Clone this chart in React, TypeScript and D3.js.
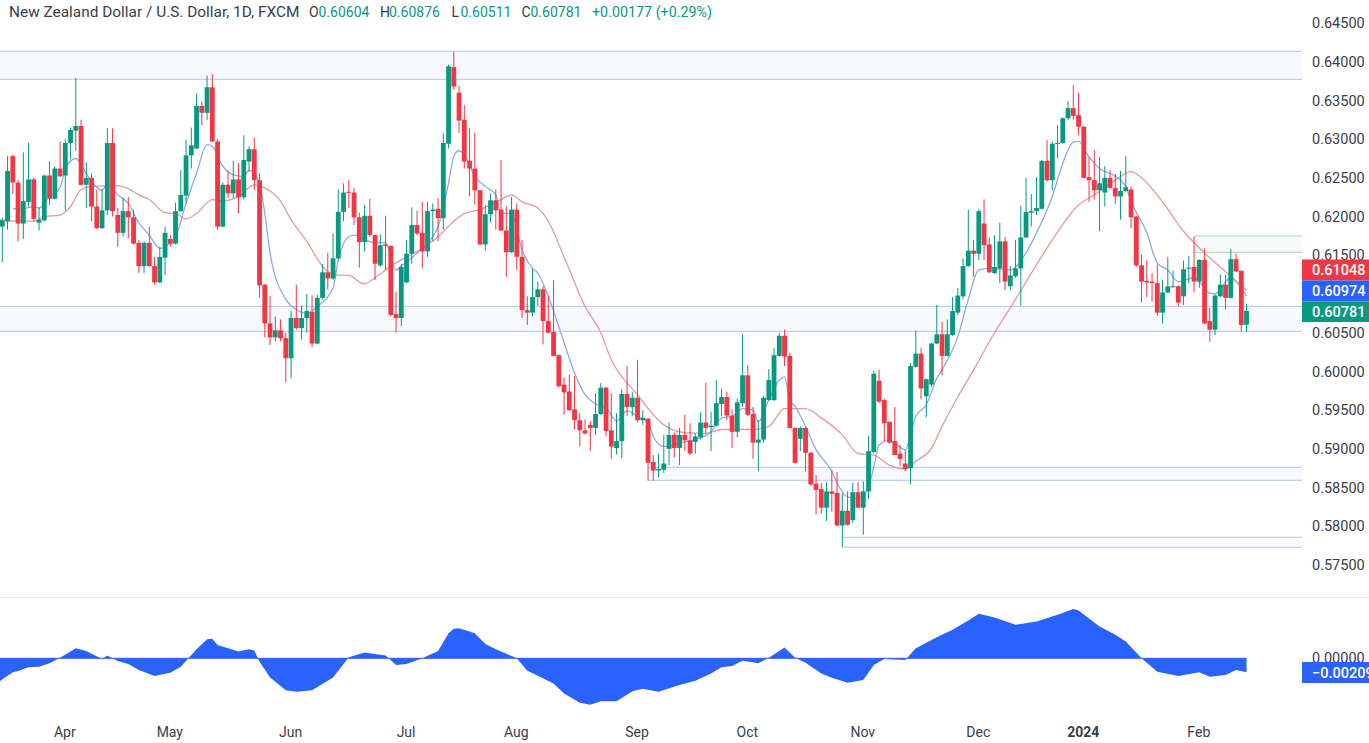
import React, { useRef, useEffect } from 'react';
import * as d3 from 'd3';

const WIDTH = 1369;
const HEIGHT = 743;

// daily candles, in pips (price * 10000)
const openPips = [
  6187,6194,6278,6244,6191,6219,6248,6192,6195,6253,
  6223,6262,6253,6295,6311,6317,6241,6250,6213,6185,
  6208,6295,6202,6179,6207,6199,6166,6136,6166,6136,
  6115,6147,6171,6165,6207,6227,6279,6288,6343,6334,
  6367,6297,6187,6241,6230,6248,6225,6271,6287,6247,
  6112,6062,6044,6053,6043,6017,6069,6056,6069,6077,
  6036,6095,6128,6120,6146,6206,6232,6231,6199,6167,
  6201,6176,6137,6164,6162,6074,6069,6115,6152,6189,
  6179,6155,6207,6210,6198,6294,6393,6360,6325,6272,
  6262,6234,6164,6203,6221,6209,6182,6154,6209,6148,
  6079,6076,6096,6106,6065,6051,6021,5983,5974,5951,
  5937,5924,5931,5927,5945,5979,5924,5901,5910,5971,
  5954,5966,5937,5939,5883,5872,5873,5900,5918,5901,
  5918,5911,5909,5915,5934,5928,5930,5958,5967,5943,
  5922,5959,5995,5945,5908,5912,5963,5963,6020,6046,
  6020,5927,5913,5927,5895,5855,5848,5824,5845,5843,
  5801,5820,5808,5844,5824,5845,5896,5988,5963,5935,
  5910,5894,5881,5875,6006,6023,5968,5983,6036,6048,
  6020,6047,6076,6097,6136,6156,6152,6191,6164,6127,
  6133,6168,6110,6123,6133,6173,6205,6207,6210,6272,
  6247,6294,6295,6327,6340,6331,6316,6251,6247,6234,
  6231,6250,6237,6226,6233,6235,6200,6137,6117,6116,
  6114,6076,6102,6109,6110,6097,6133,6135,6116,6144,
  6065,6054,6097,6112,6095,6145,6130,6060.4,
];
const highPips = [
  6198,6278,6280,6247,6283,6295,6250,6212,6254,6271,
  6265,6297,6300,6315,6379,6325,6270,6256,6235,6235,
  6314,6314,6211,6224,6225,6209,6170,6168,6187,6148,
  6161,6187,6176,6218,6260,6299,6315,6359,6349,6382,
  6384,6300,6244,6259,6272,6269,6305,6291,6302,6256,
  6113,6097,6071,6067,6050,6078,6112,6085,6100,6098,
  6099,6139,6153,6178,6235,6243,6247,6237,6205,6215,
  6223,6177,6177,6201,6163,6103,6139,6170,6212,6208,
  6219,6219,6217,6224,6308,6396,6413,6369,6344,6314,
  6308,6235,6215,6230,6235,6273,6213,6225,6217,6170,
  6097,6133,6116,6110,6097,6118,6022,5992,5996,5994,
  5946,5938,5936,5972,5985,5980,5972,5946,5977,6007,
  5974,6015,5950,5940,5892,5894,5918,5934,5921,5927,
  5944,5933,5920,5947,5985,5948,5989,5978,5974,5951,
  5965,6048,6008,5954,5937,5968,6003,6030,6050,6054,
  6024,5928,5929,5928,5896,5866,5856,5857,5873,5870,
  5843,5845,5856,5857,5858,5917,6001,6002,5965,5935,
  5954,5905,5899,6011,6053,6030,5991,6037,6086,6064,
  6067,6096,6108,6146,6209,6170,6210,6222,6173,6176,
  6192,6174,6136,6170,6214,6250,6229,6251,6273,6299,
  6297,6318,6328,6349,6370,6360,6317,6277,6286,6277,
  6265,6260,6255,6259,6278,6239,6201,6151,6144,6127,
  6138,6118,6148,6130,6111,6143,6149,6174,6145,6159,
  6082,6099,6125,6125,6158,6152,6130,6087.6,
];
const lowPips = [
  6141,6183,6229,6168,6171,6213,6194,6182,6194,6215,
  6222,6251,6208,6274,6285,6240,6211,6194,6184,6184,
  6202,6200,6161,6174,6172,6164,6127,6127,6135,6112,
  6114,6124,6161,6164,6206,6217,6262,6287,6318,6325,
  6296,6183,6186,6224,6224,6204,6222,6258,6234,6095,
  6044,6034,6039,6039,5986,5991,6054,6041,6050,6031,
  6035,6093,6106,6118,6144,6194,6211,6189,6134,6155,
  6174,6118,6135,6131,6071,6050,6059,6114,6139,6176,
  6133,6148,6168,6168,6183,6288,6364,6308,6262,6226,
  6215,6163,6156,6192,6183,6181,6122,6153,6131,6069,
  6060,6071,6085,6035,6049,6019,5979,5944,5949,5925,
  5903,5918,5897,5918,5944,5916,5887,5893,5888,5942,
  5942,5934,5931,5859,5859,5863,5869,5879,5889,5879,
  5897,5892,5894,5912,5920,5897,5929,5942,5937,5901,
  5915,5954,5942,5887,5871,5908,5962,5962,6019,6007,
  5926,5881,5897,5871,5852,5815,5816,5807,5819,5800,
  5773,5801,5804,5823,5789,5835,5894,5959,5909,5907,
  5892,5878,5871,5854,6005,5964,5941,5980,6035,5995,
  6019,6046,6073,6093,6135,6122,6144,6144,6127,6126,
  6114,6105,6105,6121,6085,6172,6187,6202,6209,6245,
  6234,6275,6294,6325,6325,6305,6249,6219,6222,6181,
  6213,6235,6216,6196,6232,6185,6135,6089,6096,6090,
  6072,6062,6101,6108,6084,6086,6114,6102,6108,6061,
  6038,6047,6096,6080,6094,6128,6051,6051.1,
];
const closePips = [
  6195,6259,6244,6191,6220,6248,6197,6196,6253,6223,
  6262,6252,6295,6312,6317,6241,6250,6213,6185,6208,
  6295,6207,6179,6207,6199,6165,6136,6166,6136,6115,
  6148,6179,6165,6207,6228,6279,6292,6343,6334,6367,
  6297,6187,6241,6230,6248,6225,6273,6287,6247,6111,
  6062,6044,6053,6043,6017,6069,6056,6069,6078,6036,
  6095,6128,6120,6146,6206,6231,6231,6199,6167,6201,
  6176,6139,6163,6162,6073,6069,6135,6152,6189,6178,
  6155,6207,6209,6198,6295,6394,6368,6324,6271,6262,
  6234,6164,6203,6221,6208,6182,6154,6209,6148,6079,
  6076,6096,6106,6065,6050,6020,5981,5973,5950,5937,
  5924,5920,5927,5945,5979,5923,5903,5910,5971,5954,
  5966,5937,5940,5882,5872,5874,5881,5918,5901,5918,
  5911,5894,5916,5934,5927,5930,5959,5967,5943,5922,
  5960,5995,5944,5908,5912,5966,5989,6021,6046,6019,
  5927,5882,5927,5895,5854,5847,5824,5845,5842,5801,
  5820,5802,5844,5824,5845,5897,5997,5961,5933,5908,
  5892,5887,5874,6007,6023,5978,5990,6036,6048,6020,
  6048,6078,6098,6136,6156,6152,6207,6163,6128,6135,
  6168,6116,6124,6133,6173,6206,6207,6211,6272,6247,
  6294,6295,6327,6340,6330,6316,6250,6247,6234,6243,
  6250,6237,6226,6233,6238,6199,6137,6116,6115,6114,
  6076,6102,6110,6110,6089,6132,6134,6116,6144,6062,
  6054,6098,6112,6095,6145,6129,6060,6078.1,
];

// moving averages: candle index + value in pips
const fastMaAt = [2,3,6,7,9,11,12,14,15,17,19,20,22,24,26,28,30,32,33,35,37,39,40,42,44,46,47,49,50,51,54,56,58,60,63,64,66,67,71,73,75,76,79,82,83,85,86,87,88,90,92,94,95,97,99,101,102,104,106,109,111,113,115,117,119,121,123,124,126,130,132,135,137,139,141,143,144,146,148,149,150,151,153,155,158,159,161,163,165,166,167,169,172,173,174,176,178,179,182,184,186,188,192,195,197,200,202,204,205,207,209,212,214,215,218,220,222,224,227,230,231,234,235,237];
const fastMa = [6211,6209,6213,6211,6226,6237,6262,6275,6267,6245,6234,6242,6228,6217,6192,6176,6159,6166,6174,6217,6256,6293,6291,6265,6254,6252,6260,6243,6204,6153,6093,6080,6075,6084,6108,6144,6174,6176,6166,6166,6131,6136,6153,6174,6187,6243,6278,6285,6280,6252,6239,6228,6204,6204,6157,6133,6127,6097,6058,5998,5970,5958,5953,5936,5949,5942,5935,5916,5903,5909,5912,5922,5940,5942,5952,5950,5935,5963,5989,5993,5963,5955,5929,5899,5871,5856,5838,5836,5851,5877,5905,5911,5899,5918,5942,5957,5991,6002,6045,6093,6131,6133,6131,6153,6179,6226,6269,6296,6297,6277,6262,6252,6239,6220,6179,6140,6131,6116,6121,6101,6100,6121,6116,6097.4];
const slowMaAt = [-1,3,6,8,11,13,15,17,22,24,26,28,31,33,35,37,40,42,45,48,50,53,55,58,61,63,66,69,71,74,76,80,83,86,88,91,95,97,99,102,104,107,111,114,116,119,121,123,126,130,134,137,143,146,149,153,156,160,163,166,169,172,174,177,179,182,185,189,193,196,200,205,208,212,215,217,221,225,229,234,237];
const slowMa = [6196,6194,6194,6200,6202,6213,6235,6239,6240,6236,6228,6222,6205,6204,6197,6204,6222,6220,6226,6241,6237,6220,6196,6168,6136,6125,6124,6113,6121,6136,6144,6159,6174,6194,6204,6209,6222,6228,6219,6211,6194,6148,6084,6050,6015,5985,5970,5952,5931,5921,5920,5925,5925,5929,5952,5952,5940,5918,5894,5892,5879,5874,5884,5901,5929,5967,6002,6050,6093,6127,6170,6215,6228,6247,6258,6250,6219,6181,6153,6123,6104.8];

// lower pane oscillator, in 1e-5 units
const oscAt = [-1,2,3,5,7,9,11,14,16,19,20,22,24,26,29,32,34,37,39,40,41,45,47,48,49,51,54,56,59,63,66,69,73,75,77,80,83,85,86,87,90,92,94,97,98,100,102,105,107,110,112,114,117,120,122,125,129,132,135,137,139,141,144,146,149,151,153,156,158,161,164,166,168,172,174,178,181,184,186,189,193,197,201,204,205,209,212,214,217,220,224,228,230,233,235,237];
const oscValues = [-370,-210,-190,-135,-125,-75,10,150,110,-10,40,-40,-85,-175,-265,-215,-125,135,285,290,200,100,135,115,-50,-285,-475,-500,-475,-285,15,85,40,-100,-85,0,110,375,440,450,375,215,135,35,0,-185,-260,-375,-525,-665,-695,-640,-640,-490,-455,-500,-400,-335,-225,-135,-115,-35,-75,10,160,10,-65,-225,-290,-365,-325,-100,-10,-25,150,315,425,565,665,610,500,550,650,735,715,475,350,250,0,-200,-265,-210,-275,-250,-175,-209];

// support / resistance boxes: top, bottom, first candle (prices)
const zoneTops = [0.64135, 0.60841, 0.58762, 0.57858, 0.61749];
const zoneBottoms = [0.63773, 0.60518, 0.58594, 0.57729, 0.61539];
const zoneStarts = [-1, -1, 123, 160, 227];
const zoneColors = ['#b3c6e2', '#b3c6e2', '#b3c6e2', '#b3c6e2', '#a8d0ca'];
const zoneFills = ['#f8f9fd', '#f8f9fd', '#f8f9fd', '#fbfbfe', '#f6fbfa'];

// 0.61000 sits under the last value tags in the reference
const priceTicks = [0.645, 0.64, 0.635, 0.63, 0.625, 0.62, 0.615, 0.605, 0.6, 0.595, 0.59, 0.585, 0.58, 0.575];
const monthTicks = [12, 32, 55, 77, 98, 121, 142, 164, 186, 206, 228];
const monthLabels = ['Apr', 'May', 'Jun', 'Jul', 'Aug', 'Sep', 'Oct', 'Nov', 'Dec', '2024', 'Feb'];

const UP = '#089981';
const DOWN = '#f23645';
const BLUE = '#2962ff';
const INK = '#3a3e48';
const FONT = 'Roboto, sans-serif';

export default function App() {
  const svgRef = useRef<SVGSVGElement>(null);

  useEffect(() => {
    const svg = d3.select(svgRef.current);
    svg.selectAll('*').remove();

    const x = d3.scaleLinear().domain([0, 237]).range([2.3, 1246.55]);
    const y = d3.scaleLinear().domain([0.575, 0.645]).range([565, 23]);
    const yOsc = d3.scaleLinear().domain([-0.01, 0.01]).range([725.3, 591.3]);
    const axisX = 1302;

    svg.append('rect').attr('width', WIDTH).attr('height', HEIGHT).attr('fill', '#ffffff');

    // zones
    const zones = d3.range(zoneTops.length);
    const zoneG = svg.append('g');
    zoneG.selectAll('rect').data(zones).enter().append('rect')
      .attr('x', i => (zoneStarts[i] < 0 ? 0 : x(zoneStarts[i])))
      .attr('y', i => y(zoneTops[i]))
      .attr('width', i => axisX - (zoneStarts[i] < 0 ? 0 : x(zoneStarts[i])))
      .attr('height', i => y(zoneBottoms[i]) - y(zoneTops[i]))
      .attr('fill', i => zoneFills[i]);
    [zoneTops, zoneBottoms].forEach(levels => {
      zoneG.selectAll(null).data(zones).enter().append('line')
        .attr('x1', i => (zoneStarts[i] < 0 ? 0 : x(zoneStarts[i])))
        .attr('x2', axisX)
        .attr('y1', i => y(levels[i]))
        .attr('y2', i => y(levels[i]))
        .attr('stroke', i => zoneColors[i])
        .attr('stroke-width', 1);
    });

    // moving averages
    const maLine = d3.line<number[]>()
      .x(d => x(d[0]))
      .y(d => y(d[1] / 1e4))
      .curve(d3.curveMonotoneX);
    svg.append('path')
      .attr('d', maLine(slowMaAt.map((at, i) => [at, slowMa[i]])))
      .attr('fill', 'none').attr('stroke', '#e39aa0').attr('stroke-width', 1.3);
    svg.append('path')
      .attr('d', maLine(fastMaAt.map((at, i) => [at, fastMa[i]])))
      .attr('fill', 'none').attr('stroke', '#8fa9e6').attr('stroke-width', 1.3);

    // candles
    const candles = svg.append('g')
      .selectAll('g')
      .data(d3.range(openPips.length))
      .enter()
      .append('g')
      .attr('fill', i => (closePips[i] >= openPips[i] ? UP : DOWN))
      .attr('stroke', i => (closePips[i] >= openPips[i] ? UP : DOWN));
    candles.append('line')
      .attr('x1', i => x(i)).attr('x2', i => x(i))
      .attr('y1', i => y(highPips[i] / 1e4))
      .attr('y2', i => y(lowPips[i] / 1e4))
      .attr('stroke-width', 1);
    candles.append('rect')
      .attr('x', i => x(i) - 2.4)
      .attr('width', 4.8)
      .attr('y', i => y(Math.max(openPips[i], closePips[i]) / 1e4))
      .attr('height', i => Math.max(1, Math.abs(y(openPips[i] / 1e4) - y(closePips[i] / 1e4))))
      .attr('stroke', 'none');

    // oscillator pane
    svg.append('line')
      .attr('x1', 0).attr('x2', WIDTH).attr('y1', 597.5).attr('y2', 597.5)
      .attr('stroke', '#e4e6eb').attr('stroke-width', 1);
    const oscArea = d3.area<number>()
      .x((_, i) => x(oscAt[i]))
      .y0(yOsc(0))
      .y1(d => yOsc(d / 1e5));
    svg.append('path').attr('d', oscArea(oscValues)).attr('fill', BLUE);
    svg.append('line')
      .attr('x1', 0).attr('x2', x(237)).attr('y1', yOsc(0)).attr('y2', yOsc(0))
      .attr('stroke', BLUE).attr('stroke-width', 1);

    // price axis
    const priceAxis = svg.append('g')
      .attr('transform', `translate(1312,0)`)
      .call(d3.axisRight(y).tickValues(priceTicks).tickSize(0).tickPadding(0).tickFormat(d3.format('.5f')))
      .style('font-family', FONT)
      .style('font-size', '14.5px');
    priceAxis.select('.domain').remove();
    priceAxis.selectAll('text').attr('fill', INK);

    // oscillator axis
    const oscAxis = svg.append('g')
      .attr('transform', `translate(1312,0)`)
      .call(d3.axisRight(yOsc).tickValues([0]).tickSize(0).tickPadding(0).tickFormat(d3.format('.5f')))
      .style('font-family', FONT)
      .style('font-size', '14.5px');
    oscAxis.select('.domain').remove();
    oscAxis.selectAll('text').attr('fill', INK);

    // time axis
    const timeAxis = svg.append('g')
      .attr('transform', 'translate(-1,727)')
      .call(d3.axisBottom(x).tickValues(monthTicks).tickSize(0).tickPadding(0)
        .tickFormat((_, i) => monthLabels[i]))
      .style('font-family', FONT)
      .style('font-size', '14px');
    timeAxis.select('.domain').remove();
    timeAxis.selectAll('text')
      .attr('fill', INK)
      .attr('font-weight', (_, i) => (monthLabels[i] === '2024' ? 700 : 400));

    // last value tags
    const tagTop = [259.5, 280.5, 301.5, 662];
    const tagBottom = [280.5, 301.5, 322, 683];
    const tagColor = [DOWN, BLUE, UP, BLUE];
    const tagText = ['0.61048', '0.60974', '0.60781', '\u22120.00209'];
    const tags = svg.append('g').selectAll('g').data(d3.range(tagText.length)).enter().append('g');
    tags.append('rect')
      .attr('x', axisX).attr('width', WIDTH - axisX)
      .attr('y', i => tagTop[i])
      .attr('height', i => tagBottom[i] - tagTop[i])
      .attr('fill', i => tagColor[i]);
    tags.append('text')
      .attr('x', 1312)
      .attr('y', i => (tagTop[i] + tagBottom[i]) / 2 + 5)
      .attr('fill', '#ffffff')
      .style('font-family', FONT)
      .style('font-size', '14.5px')
      .style('font-weight', 500)
      .text(i => tagText[i]);

    // header
    const legendX = [9, 309, 318.5, 380, 389, 451.5, 460.5, 521.5, 530.5, 592];
    const legendText = ['New Zealand Dollar / U.S. Dollar, 1D, FXCM', 'O', '0.60604', 'H', '0.60876', 'L', '0.60511', 'C', '0.60781', '+0.00177 (+0.29%)'];
    svg.append('g').selectAll('text').data(legendText).enter().append('text')
      .attr('x', (_, i) => legendX[i])
      .attr('y', 17)
      .attr('fill', (_, i) => (i === 0 || legendText[i].length === 1 ? INK : UP))
      .style('font-family', FONT)
      .style('font-size', (_, i) => (i === 0 ? '15.4px' : i === 9 ? '14.3px' : '14px'))
      .text(d => d);
  }, []);

  return (
    <svg
      ref={svgRef}
      width={WIDTH}
      height={HEIGHT}
      viewBox={`0 0 ${WIDTH} ${HEIGHT}`}
      style={{ position: 'absolute', left: 0, top: 0, display: 'block' }}
    ></svg>
  );
}
